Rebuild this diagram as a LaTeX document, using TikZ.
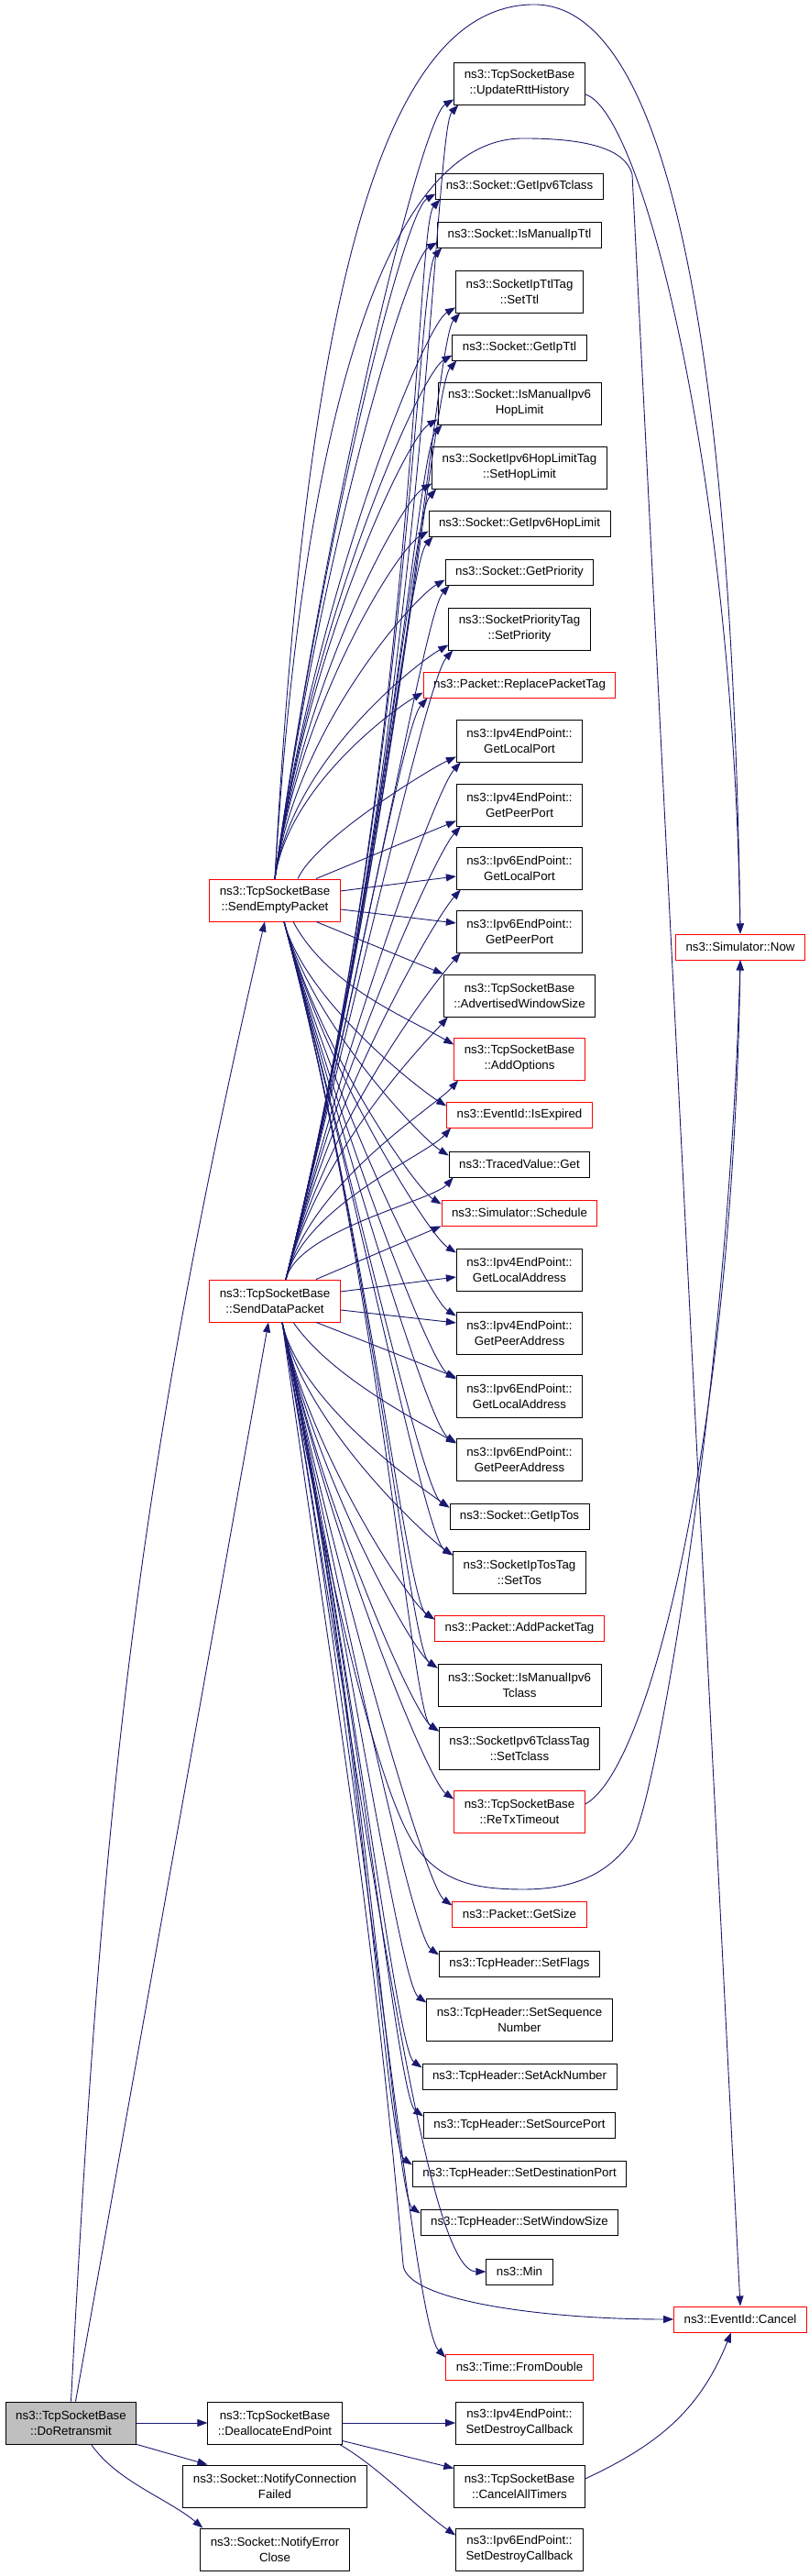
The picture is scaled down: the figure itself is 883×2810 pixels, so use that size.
\documentclass[tikz,border=0pt]{standalone}
\usepackage{fontspec}
\setmainfont{Liberation Sans}
\usepackage{xcolor}
\usepackage{tikz}
\usetikzlibrary{arrows.meta}
\definecolor{dotblue}{HTML}{191970}
\definecolor{rootgray}{HTML}{BFBFBF}

\begin{document}
\begin{tikzpicture}
                [
                x=1pt, y=1pt,
                func/.style={rectangle,draw,line width=0.9pt,align=center,inner xsep=11pt,inner ysep=0pt,minimum height=28pt,font=\fontsize{13.3}{17}\selectfont},
                func2/.style={func,minimum height=46pt},
                trunc/.style={draw=red},
                root/.style={fill=rootgray},
                edge/.style={->,> = {Triangle[length=11pt,width=8pt]},dotblue,line width=0.9pt}
                ]
            \useasboundingbox (0,0) rectangle (883,2810);
            \node[func2,root] (1) at (77.5,167) {ns3::TcpSocketBase\\::DoRetransmit};
            \node[func2,trunc] (2) at (300,1828) {ns3::TcpSocketBase\\::SendEmptyPacket};
            \node[func2,trunc] (3) at (300,1391) {ns3::TcpSocketBase\\::SendDataPacket};
            \node[func2] (4) at (300,167) {ns3::TcpSocketBase\\::DeallocateEndPoint};
            \node[func2] (5) at (300,98) {ns3::Socket::NotifyConnection\\Failed};
            \node[func2] (6) at (300,29) {ns3::Socket::NotifyError\\Close};
            \node[func2] (7) at (567,2719) {ns3::TcpSocketBase\\::UpdateRttHistory};
            \node[func] (8) at (567,2607) {ns3::Socket::GetIpv6Tclass};
            \node[func] (9) at (567,2554) {ns3::Socket::IsManualIpTtl};
            \node[func2] (10) at (567,2492) {ns3::SocketIpTtlTag\\::SetTtl};
            \node[func] (11) at (567,2431) {ns3::Socket::GetIpTtl};
            \node[func2] (12) at (567,2370) {ns3::Socket::IsManualIpv6\\HopLimit};
            \node[func2] (13) at (567,2300) {ns3::SocketIpv6HopLimitTag\\::SetHopLimit};
            \node[func] (14) at (567,2239) {ns3::Socket::GetIpv6HopLimit};
            \node[func] (15) at (567,2186) {ns3::Socket::GetPriority};
            \node[func2] (16) at (567,2124) {ns3::SocketPriorityTag\\::SetPriority};
            \node[func,trunc] (17) at (567,2063) {ns3::Packet::ReplacePacketTag};
            \node[func2] (18) at (567,2002) {ns3::Ipv4EndPoint::\\GetLocalPort};
            \node[func2] (19) at (567,1932) {ns3::Ipv4EndPoint::\\GetPeerPort};
            \node[func2] (20) at (567,1863) {ns3::Ipv6EndPoint::\\GetLocalPort};
            \node[func2] (21) at (567,1794) {ns3::Ipv6EndPoint::\\GetPeerPort};
            \node[func2] (22) at (567,1724) {ns3::TcpSocketBase\\::AdvertisedWindowSize};
            \node[func2,trunc] (23) at (567,1655) {ns3::TcpSocketBase\\::AddOptions};
            \node[func,trunc] (24) at (567,1594) {ns3::EventId::IsExpired};
            \node[func] (25) at (567,1540) {ns3::TracedValue::Get};
            \node[func,trunc] (26) at (567,1487) {ns3::Simulator::Schedule};
            \node[func2] (27) at (567,1425) {ns3::Ipv4EndPoint::\\GetLocalAddress};
            \node[func2] (28) at (567,1356) {ns3::Ipv4EndPoint::\\GetPeerAddress};
            \node[func2] (29) at (567,1287) {ns3::Ipv6EndPoint::\\GetLocalAddress};
            \node[func2] (30) at (567,1218) {ns3::Ipv6EndPoint::\\GetPeerAddress};
            \node[func] (31) at (567,1156) {ns3::Socket::GetIpTos};
            \node[func2] (32) at (567,1095) {ns3::SocketIpTosTag\\::SetTos};
            \node[func,trunc] (33) at (567,1034) {ns3::Packet::AddPacketTag};
            \node[func2] (34) at (567,972) {ns3::Socket::IsManualIpv6\\Tclass};
            \node[func2] (35) at (567,903) {ns3::SocketIpv6TclassTag\\::SetTclass};
            \node[func2,trunc] (36) at (567,834) {ns3::TcpSocketBase\\::ReTxTimeout};
            \node[func,trunc] (37) at (567,722) {ns3::Packet::GetSize};
            \node[func] (38) at (567,668) {ns3::TcpHeader::SetFlags};
            \node[func2] (39) at (567,607) {ns3::TcpHeader::SetSequence\\Number};
            \node[func] (40) at (567,545) {ns3::TcpHeader::SetAckNumber};
            \node[func] (41) at (567,492) {ns3::TcpHeader::SetSourcePort};
            \node[func] (42) at (567,439) {ns3::TcpHeader::SetDestinationPort};
            \node[func] (43) at (567,386) {ns3::TcpHeader::SetWindowSize};
            \node[func] (44) at (567,332) {ns3::Min};
            \node[func,trunc] (45) at (567,228) {ns3::Time::FromDouble};
            \node[func2] (46) at (567,167) {ns3::Ipv4EndPoint::\\SetDestroyCallback};
            \node[func2] (47) at (567,98) {ns3::TcpSocketBase\\::CancelAllTimers};
            \node[func2] (48) at (567,29) {ns3::Ipv6EndPoint::\\SetDestroyCallback};
            \node[func,trunc] (49) at (808,1777) {ns3::Simulator::Now};
            \node[func,trunc] (50) at (808,280) {ns3::EventId::Cancel};
            \draw[edge] (1.north) .. controls +(87:638pt) and +(-103:638pt) .. ([xshift=-11pt]2.south);
            \draw[edge] ([xshift=5pt]1.north) -- ([xshift=-7pt]3.south);
            \draw[edge] (1.east) -- (4.west);
            \draw[edge] (1.south east) -- ([xshift=27pt]5.north west);
            \draw[edge] ([xshift=22pt]1.south) .. controls +(-55:50pt) and +(140:50pt) .. ([xshift=3pt]6.north west);
            \draw[edge] (2.north) .. controls +(82:425pt) and +(210:40pt) .. ([yshift=6pt]7.south west);
            \draw[edge] (2.north) .. controls +(82:375pt) and +(210:40pt) .. ([yshift=6pt]8.south west);
            \draw[edge] (2.north) .. controls +(82:345pt) and +(210:40pt) .. ([yshift=6pt]9.south west);
            \draw[edge] (2.north) .. controls +(82:310pt) and +(210:40pt) .. ([yshift=6pt]10.south west);
            \draw[edge] (2.north) .. controls +(82:285pt) and +(210:40pt) .. ([yshift=6pt]11.south west);
            \draw[edge] (2.north) .. controls +(82:250pt) and +(210:40pt) .. ([yshift=6pt]12.south west);
            \draw[edge] (2.north) .. controls +(82:215pt) and +(210:40pt) .. ([yshift=6pt]13.south west);
            \draw[edge] (2.north) .. controls +(82:190pt) and +(210:40pt) .. ([yshift=6pt]14.south west);
            \draw[edge] (2.north) .. controls +(82:165pt) and +(210:40pt) .. ([yshift=6pt]15.south west);
            \draw[edge] (2.north) .. controls +(82:130pt) and +(210:40pt) .. ([yshift=6pt]16.south west);
            \draw[edge] (2.north) .. controls +(82:100pt) and +(210:40pt) .. ([yshift=6pt]17.south west);
            \draw[edge] ([xshift=25pt]2.north) .. controls +(65:50pt) and +(205:30pt) .. ([yshift=6pt]18.south west);
            \draw[edge] ([xshift=45pt]2.north) -- ([yshift=6pt]19.south west);
            \draw[edge] ([yshift=10pt]2.east) -- ([yshift=-9pt]20.west);
            \draw[edge] ([yshift=-10pt]2.east) -- ([yshift=9pt]21.west);
            \draw[edge] ([xshift=45pt]2.south) -- (22.north west);
            \draw[edge] ([xshift=20pt]2.south) .. controls +(-62:80pt) and +(150:60pt) .. ([yshift=-8pt]23.north west);
            \draw[edge] ([xshift=10pt]2.south) .. controls +(-75:90pt) and +(148:35pt) .. ([yshift=-5pt]24.north west);
            \draw[edge] ([xshift=10pt]2.south) .. controls +(-75:115pt) and +(148:35pt) .. ([yshift=-5pt]25.north west);
            \draw[edge] ([xshift=10pt]2.south) .. controls +(-75:140pt) and +(148:35pt) .. ([yshift=-5pt]26.north west);
            \draw[edge] ([xshift=10pt]2.south) .. controls +(-75:165pt) and +(148:35pt) .. ([yshift=-5pt]27.north west);
            \draw[edge] ([xshift=10pt]2.south) .. controls +(-75:195pt) and +(148:35pt) .. ([yshift=-5pt]28.north west);
            \draw[edge] ([xshift=10pt]2.south) .. controls +(-75:225pt) and +(148:35pt) .. ([yshift=-5pt]29.north west);
            \draw[edge] ([xshift=10pt]2.south) .. controls +(-75:255pt) and +(148:35pt) .. ([yshift=-5pt]30.north west);
            \draw[edge] ([xshift=10pt]2.south) .. controls +(-75:290pt) and +(148:35pt) .. ([yshift=-5pt]31.north west);
            \draw[edge] ([xshift=10pt]2.south) .. controls +(-75:310pt) and +(148:35pt) .. ([yshift=-5pt]32.north west);
            \draw[edge] ([xshift=10pt]2.south) .. controls +(-75:345pt) and +(148:35pt) .. ([yshift=-5pt]33.north west);
            \draw[edge] ([xshift=10pt]2.south) .. controls +(-75:365pt) and +(148:35pt) .. ([yshift=-5pt]34.north west);
            \draw[edge] ([xshift=10pt]2.south) .. controls +(-75:400pt) and +(148:35pt) .. ([yshift=-5pt]35.north west);
            \draw[edge] (2.north) .. controls (335,2500) and (420,2805) .. (583,2805) .. controls (745,2805) and (800,2350) .. (49.north);
            \draw[edge] (2.north) .. controls (330,2350) and (420,2659) .. (571,2659) .. controls (640,2659) and (682,2648) .. (690,2620) -- (50.north);
            \draw[edge] ([xshift=12pt]3.north) .. controls +(76:640pt) and +(228:40pt) .. ([xshift=5pt]7.south west);
            \draw[edge] ([xshift=12pt]3.north) .. controls +(76:590pt) and +(228:40pt) .. ([xshift=5pt]8.south west);
            \draw[edge] ([xshift=12pt]3.north) .. controls +(76:563pt) and +(228:40pt) .. ([xshift=5pt]9.south west);
            \draw[edge] ([xshift=12pt]3.north) .. controls +(76:528pt) and +(228:40pt) .. ([xshift=5pt]10.south west);
            \draw[edge] ([xshift=12pt]3.north) .. controls +(76:500pt) and +(228:40pt) .. ([xshift=5pt]11.south west);
            \draw[edge] ([xshift=12pt]3.north) .. controls +(76:467pt) and +(228:40pt) .. ([xshift=5pt]12.south west);
            \draw[edge] ([xshift=12pt]3.north) .. controls +(76:432pt) and +(228:40pt) .. ([xshift=5pt]13.south west);
            \draw[edge] ([xshift=12pt]3.north) .. controls +(76:405pt) and +(228:40pt) .. ([xshift=5pt]14.south west);
            \draw[edge] ([xshift=12pt]3.north) .. controls +(76:380pt) and +(228:40pt) .. ([xshift=5pt]15.south west);
            \draw[edge] ([xshift=12pt]3.north) .. controls +(76:343pt) and +(228:40pt) .. ([xshift=5pt]16.south west);
            \draw[edge] ([xshift=12pt]3.north) .. controls +(76:318pt) and +(228:40pt) .. ([xshift=5pt]17.south west);
            \draw[edge] ([xshift=12pt]3.north) .. controls +(76:283pt) and +(228:40pt) .. ([xshift=5pt]18.south west);
            \draw[edge] ([xshift=12pt]3.north) .. controls +(76:248pt) and +(228:40pt) .. ([xshift=5pt]19.south west);
            \draw[edge] ([xshift=12pt]3.north) .. controls +(76:213pt) and +(228:40pt) .. ([xshift=5pt]20.south west);
            \draw[edge] ([xshift=12pt]3.north) .. controls +(76:178pt) and +(228:40pt) .. ([xshift=5pt]21.south west);
            \draw[edge] ([xshift=12pt]3.north) .. controls +(76:143pt) and +(228:40pt) .. ([xshift=5pt]22.south west);
            \draw[edge] ([xshift=12pt]3.north) .. controls +(76:109pt) and +(228:40pt) .. ([xshift=5pt]23.south west);
            \draw[edge] ([xshift=12pt]3.north) .. controls +(76:83pt) and +(228:40pt) .. ([xshift=5pt]24.south west);
            \draw[edge] ([xshift=12pt]3.north) .. controls +(76:56pt) and +(228:35pt) .. ([xshift=5pt]25.south west);
            \draw[edge] ([xshift=45pt]3.north) -- (26.south west);
            \draw[edge] ([yshift=10pt]3.east) -- ([yshift=-8pt]27.west);
            \draw[edge] ([yshift=-10pt]3.east) -- ([yshift=11pt]28.west);
            \draw[edge] ([xshift=45pt]3.south) -- ([yshift=-3pt]29.north west);
            \draw[edge] ([xshift=20pt]3.south) .. controls +(-55:70pt) and +(150:60pt) .. ([yshift=-6pt]30.north west);
            \draw[edge] ([xshift=8pt]3.south) .. controls +(-78:90pt) and +(145:35pt) .. ([yshift=-5pt]31.north west);
            \draw[edge] ([xshift=8pt]3.south) .. controls +(-78:115pt) and +(145:35pt) .. ([yshift=-5pt]32.north west);
            \draw[edge] ([xshift=8pt]3.south) .. controls +(-78:145pt) and +(145:35pt) .. ([yshift=-5pt]33.north west);
            \draw[edge] ([xshift=8pt]3.south) .. controls +(-78:170pt) and +(145:35pt) .. ([yshift=-5pt]34.north west);
            \draw[edge] ([xshift=8pt]3.south) .. controls +(-78:200pt) and +(145:35pt) .. ([yshift=-5pt]35.north west);
            \draw[edge] ([xshift=8pt]3.south) .. controls +(-78:235pt) and +(145:35pt) .. ([yshift=-10pt]36.north west);
            \draw[edge] ([xshift=8pt]3.south) .. controls +(-78:285pt) and +(145:35pt) .. ([yshift=-5pt]37.north west);
            \draw[edge] ([xshift=8pt]3.south) .. controls +(-78:310pt) and +(145:35pt) .. ([yshift=-5pt]38.north west);
            \draw[edge] ([xshift=8pt]3.south) .. controls +(-78:335pt) and +(145:35pt) .. ([yshift=-5pt]39.north west);
            \draw[edge] ([xshift=8pt]3.south) .. controls +(-78:365pt) and +(145:35pt) .. ([yshift=-5pt]40.north west);
            \draw[edge] ([xshift=8pt]3.south) .. controls +(-78:390pt) and +(145:35pt) .. ([yshift=-5pt]41.north west);
            \draw[edge] ([xshift=8pt]3.south) .. controls +(-78:415pt) and +(145:35pt) .. ([yshift=-5pt]42.north west);
            \draw[edge] ([xshift=8pt]3.south) .. controls +(-78:440pt) and +(145:35pt) .. ([yshift=-5pt]43.north west);
            \draw[edge] ([xshift=8pt]3.south) .. controls +(-80:520pt) and +(180:70pt) .. (44.west);
            \draw[edge] ([xshift=8pt]3.south) .. controls +(-80:540pt) and +(135:50pt) .. ([yshift=-4pt]45.north west);
            \draw[edge] ([xshift=8pt]3.south) .. controls +(-80:330pt) and +(125:60pt) .. (453,797) .. controls +(-55:50pt) and +(180:50pt) .. (571,749) .. controls +(0:50pt) and +(-125:50pt) .. (690,803) .. controls (715,840) and (795,1300) .. (49.south);
            \draw[edge] ([xshift=8pt]3.south) .. controls +(-82:405pt) and +(95:405pt) .. (440,340) .. controls +(-88:40pt) and +(180:140pt) .. (50.west);
            \draw[edge] ([yshift=-12pt]7.east) .. controls (700,2690) and (800,2300) .. (49.north);
            \draw[edge] ([yshift=8pt]36.east) .. controls (710,880) and (800,1250) .. (49.south);
            \draw[edge] (4.east) -- (46.west);
            \draw[edge] ([yshift=4pt]4.south east) -- ([yshift=-4pt]47.north west);
            \draw[edge] ([xshift=-3pt]4.south east) .. controls +(-30:50pt) and +(145:50pt) .. ([yshift=-8pt]48.north west);
            \draw[edge] ([yshift=8pt]47.east) .. controls +(25:90pt) and +(-112:90pt) .. ([xshift=-10pt]50.south);
            \end{tikzpicture}
\end{document}
